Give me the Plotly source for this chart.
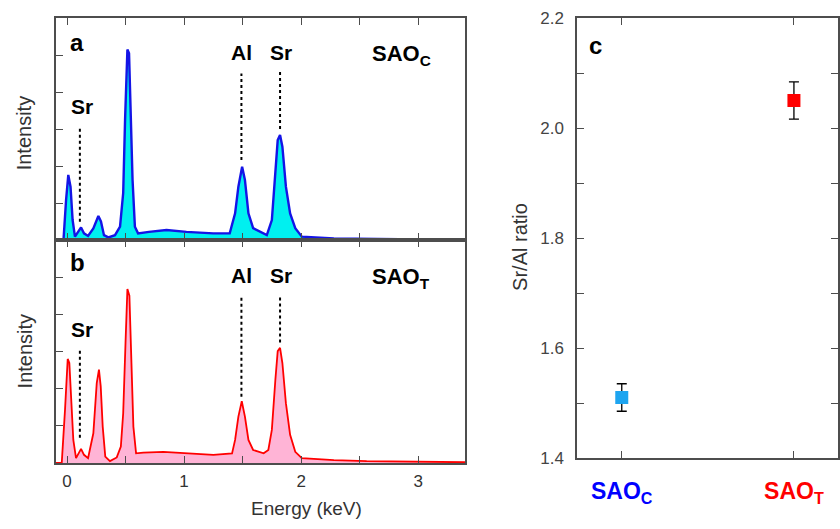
import plotly.graph_objects as go

# ---------------- data ----------------
# Panel a (SAO_C) spectrum: energy (keV) and intensity (arb. units)
energy_a = [-0.094, -0.03, -0.008, 0.011, 0.03, 0.048, 0.068, 0.097, 0.12, 0.145, 0.18,
            0.225, 0.268, 0.29, 0.316, 0.353, 0.41, 0.453, 0.48, 0.496, 0.516, 0.53,
            0.544, 0.56, 0.58, 0.607, 0.70, 0.85, 1.02, 1.25, 1.39, 1.436, 1.464,
            1.496, 1.52, 1.55, 1.59, 1.65, 1.707, 1.75, 1.78, 1.80, 1.82, 1.84,
            1.87, 1.906, 1.95, 2.006, 2.28, 2.85, 3.40]
intensity_a = [0.0, 0.0, 1.08, 1.76, 1.44, 0.54, 0.09, 0.22, 0.34, 0.18, 0.11,
               0.31, 0.65, 0.50, 0.13, 0.07, 0.13, 0.36, 1.27, 3.24, 5.15, 5.05,
               3.7, 1.62, 0.36, 0.18, 0.22, 0.27, 0.22, 0.18, 0.18, 0.72, 1.44,
               1.98, 1.62, 0.72, 0.32, 0.22, 0.135, 0.54, 1.98, 2.70, 2.84, 2.52,
               1.44, 0.72, 0.32, 0.09, 0.045, 0.03, 0.0]

# Panel b (SAO_T) spectrum
energy_b = [-0.094, -0.045, -0.017, 0.006, 0.02, 0.037, 0.054, 0.077, 0.10, 0.12, 0.145,
            0.18, 0.225, 0.254, 0.273, 0.288, 0.305, 0.327, 0.367, 0.425, 0.46, 0.48,
            0.50, 0.516, 0.533, 0.547, 0.567, 0.59, 0.652, 0.823, 1.02, 1.25, 1.41,
            1.436, 1.464, 1.493, 1.52, 1.55, 1.59, 1.68, 1.72, 1.75, 1.78, 1.80,
            1.82, 1.84, 1.87, 1.906, 1.95, 2.006, 2.28, 2.56, 3.40]
intensity_b = [0.0, 0.0, 1.43, 2.80, 2.69, 1.70, 0.62, 0.13, 0.26, 0.38, 0.22,
               0.13, 0.80, 2.15, 2.51, 2.06, 0.98, 0.17, 0.05, 0.15, 0.44, 1.34,
               3.24, 4.68, 4.50, 2.78, 0.98, 0.26, 0.28, 0.30, 0.26, 0.22, 0.26,
               0.62, 1.25, 1.66, 1.25, 0.62, 0.35, 0.26, 0.35, 0.89, 2.24, 3.01,
               3.10, 2.69, 1.61, 0.76, 0.30, 0.13, 0.08, 0.05, 0.02]

# Peak marker (dotted) lines: energy, bottom, top for each panel
peak_labels = ["Sr", "Al", "Sr"]
peak_energy = [0.11, 1.49, 1.82]
peak_bottom_a = [0.49, 2.16, 3.0]
peak_top_a = [3.05, 4.5, 4.55]
peak_bottom_b = [0.68, 1.78, 3.24]
peak_top_b = [3.05, 4.49, 4.49]

# Panel c: Sr/Al ratio
samples = ["SAO<sub>C</sub>", "SAO<sub>T</sub>"]
sample_colors = ["#0000ff", "#ff0000"]
marker_colors = ["#1ea5f0", "#ff0000"]
ratio = [1.51, 2.05]
ratio_err = [0.025, 0.034]

energy_ticks = [0, 1, 2, 3]
energy_ticktext = ["0", "1", "2", "3"]
ratio_ticks = [1.4, 1.6, 1.8, 2.0, 2.2]
ratio_ticktext = ["1.4", "1.6", "1.8", "2.0", "2.2"]
right_ticks_a = [3.24, 4.78]
right_ticks_b = [1.22, 1.97, 3.24, 4.0, 5.41]

# ---------------- figure ----------------
W, H = 840, 529
FONT = "Liberation Sans, Arial, sans-serif"
FRAME = "#4d4d4d"

def px_x(p):
    return p / W

def px_y(p):
    return (H - p) / H

fig = go.Figure()

# spectra
fig.add_trace(go.Scatter(x=energy_a, y=intensity_a, mode="lines", fill="tozeroy",
                         fillcolor="#00f0f0", line=dict(color="#1414e6", width=2.4),
                         xaxis="x", yaxis="y", showlegend=False))
fig.add_trace(go.Scatter(x=energy_b, y=intensity_b, mode="lines", fill="tozeroy",
                         fillcolor="#ffb4d6", line=dict(color="#ff0000", width=1.8),
                         xaxis="x2", yaxis="y2", showlegend=False))

# dotted peak lines
for e, b0, t0, b1, t1 in zip(peak_energy, peak_bottom_a, peak_top_a, peak_bottom_b, peak_top_b):
    fig.add_trace(go.Scatter(x=[e, e], y=[b0, t0], mode="lines",
                             line=dict(color="black", width=2, dash="dot"),
                             xaxis="x", yaxis="y", showlegend=False))
    fig.add_trace(go.Scatter(x=[e, e], y=[b1, t1], mode="lines",
                             line=dict(color="black", width=2, dash="dot"),
                             xaxis="x2", yaxis="y2", showlegend=False))

# ratio points
for i in range(len(samples)):
    fig.add_trace(go.Scatter(x=[i], y=[ratio[i]], mode="markers",
                             marker=dict(symbol="square", size=13, color=marker_colors[i]),
                             error_y=dict(type="data", array=[ratio_err[i]], color="black",
                                          thickness=1.3, width=5),
                             xaxis="x3", yaxis="y5", showlegend=False))

minor_x = dict(dtick=0.5, tick0=0, ticks="inside", ticklen=7, tickcolor=FRAME, showgrid=False)
common_x = dict(range=[-0.094, 3.40], tickvals=energy_ticks, ticktext=energy_ticktext,
                ticks="inside", ticklen=7, minor=minor_x, automargin=False,
                tickcolor=FRAME, showline=True, linecolor=FRAME, linewidth=1.5,
                mirror="ticks", showgrid=False, zeroline=False)
common_y = dict(range=[0, 6], tickvals=[1, 2, 3, 4, 5], ticks="inside", ticklen=7,
                tickcolor=FRAME, showline=True, linecolor=FRAME, linewidth=1.5, automargin=False,
                mirror=True, showgrid=False, zeroline=False, showticklabels=False)
right_y = dict(side="right", range=[0, 6], ticks="inside", ticklen=7, tickcolor=FRAME,
               showticklabels=False, showgrid=False, zeroline=False, showline=False,
               automargin=False)

fig.update_layout(
    template="none",
    width=W, height=H, margin=dict(l=0, r=0, t=0, b=0, pad=0), autosize=False,
    paper_bgcolor="white", plot_bgcolor="white",
    font=dict(family=FONT, color="#333333"),
    xaxis=dict(domain=[px_x(56), px_x(465)], anchor="y", showticklabels=False, **common_x),
    yaxis=dict(domain=[px_y(240), px_y(18)], anchor="x", **common_y),
    yaxis3=dict(overlaying="y", anchor="x", tickvals=right_ticks_a, **right_y),
    xaxis2=dict(domain=[px_x(56), px_x(465)], anchor="y2",
                tickfont=dict(size=17, color="#333333"), ticklabelstandoff=2, **common_x),
    yaxis2=dict(domain=[px_y(463), px_y(240)], anchor="x2", **common_y),
    yaxis4=dict(overlaying="y2", anchor="x2", tickvals=right_ticks_b, **right_y),
    xaxis3=dict(domain=[px_x(577), px_x(838)], anchor="y5", range=[-0.26, 1.256],
                tickvals=[0, 1],
                ticktext=[f"<b><span style='color:{c}'>{s}</span></b>" for s, c in zip(samples, sample_colors)],
                tickfont=dict(size=23), ticklabelstandoff=12, automargin=False,
                ticks="inside", ticklen=7, tickcolor=FRAME, showline=True, linecolor=FRAME,
                linewidth=1.5, mirror="ticks", showgrid=False, zeroline=False),
    yaxis5=dict(domain=[px_y(458), px_y(18)], anchor="x3", range=[1.4, 2.2],
                tickvals=ratio_ticks, ticktext=ratio_ticktext, automargin=False,
                minor=dict(dtick=0.1, tick0=1.4, ticks="inside", ticklen=7, tickcolor=FRAME, showgrid=False),
                tickfont=dict(size=17, color="#444444"), ticklabelstandoff=8,
                ticks="inside", ticklen=7, tickcolor=FRAME, showline=True, linecolor=FRAME,
                linewidth=1.5, mirror="ticks", showgrid=False, zeroline=False),
)

ann = []
def label(text, x, y, xref, yref, size, xanchor="center", yanchor="middle", color="black", angle=0):
    ann.append(dict(text=text, x=x, y=y, xref=xref, yref=yref, showarrow=False, textangle=angle,
                    xanchor=xanchor, yanchor=yanchor, font=dict(size=size, color=color, family=FONT)))

# panel letters
label("<b>a</b>", 0.005, 5.35, "x", "y", 24, xanchor="left")
label("<b>b</b>", 0.005, 5.4, "x2", "y2", 24, xanchor="left")
label("<b>c</b>", -0.2, 2.15, "x3", "y5", 24, xanchor="left")

# element labels
label_x = [0.124, 1.493, 1.83]
label_y_a = [3.6, 5.08, 5.08]
label_y_b = [3.6, 5.05, 5.05]
for name, lx, ya, yb in zip(peak_labels, label_x, label_y_a, label_y_b):
    label(f"<b>{name}</b>", lx, ya, "x", "y", 21)
    label(f"<b>{name}</b>", lx, yb, "x2", "y2", 21)

label("<b>SAO<sub>C</sub></b>", 2.59, 5.0, "x", "y", 22, xanchor="left")
label("<b>SAO<sub>T</sub></b>", 2.59, 4.97, "x2", "y2", 22, xanchor="left")

# axis titles (positioned relative to the axis domains)
label("Intensity", -0.076, 0.48, "x domain", "y domain", 20, color="#333333", angle=-90)
label("Intensity", -0.076, 0.50, "x2 domain", "y2 domain", 20, color="#333333", angle=-90)
label("Energy (keV)", 0.613, -0.205, "x2 domain", "y2 domain", 19, color="#333333")
label("Sr/Al ratio", -0.218, 0.48, "x3 domain", "y5 domain", 20, color="#333333", angle=-90)

fig.update_layout(annotations=ann)
fig.write_html("out.html")
